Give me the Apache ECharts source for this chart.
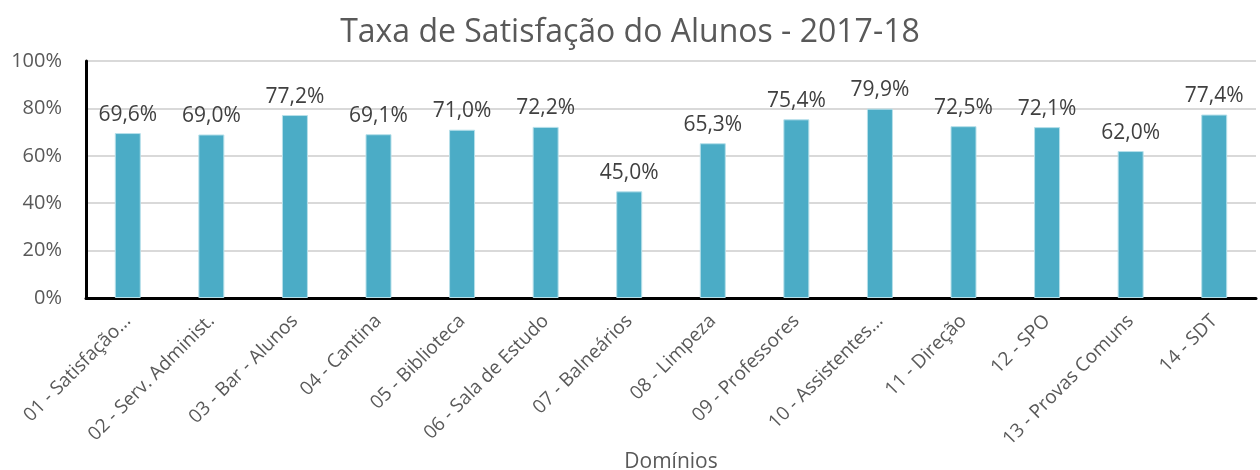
<!DOCTYPE html>
<html>
<head>
<meta charset="utf-8">
<script src="https://cdn.jsdelivr.net/npm/echarts@6/dist/echarts.min.js"></script>
<style>
  html, body { margin: 0; padding: 0; background: #fff; }
</style>
</head>
<body>
<div id="chart" style="width: 1260px; height: 470px"></div>
<script>
const categories = [
  '01 - Satisfação...', '02 - Serv. Administ.', '03 - Bar - Alunos', '04 - Cantina',
  '05 - Biblioteca', '06 - Sala de Estudo', '07 - Balneários', '08 - Limpeza',
  '09 - Professores', '10 - Assistentes...', '11 - Direção', '12 - SPO',
  '13 - Provas Comuns', '14 - SDT'
]
const satisfacao = [69.6, 69.0, 77.2, 69.1, 71.0, 72.2, 45.0, 65.3, 75.4, 79.9, 72.5, 72.1, 62.0, 77.4]

const chartDom = document.getElementById('chart')
const myChart = echarts.init(chartDom)
const font = '"Open Sans", sans-serif'

const option = {
  animation: false,
  title: {
    text: 'Taxa de Satisfação do Alunos - 2017-18',
    left: 'center',
    top: 12,
    textStyle: { fontFamily: font, fontSize: 32, fontWeight: 'normal', color: '#595959' },
  },
  grid: { left: 86, right: 4, top: 61, bottom: 172, outerBoundsMode: 'none' },
  xAxis: {
    type: 'category',
    data: categories,
    name: 'Domínios',
    nameLocation: 'middle',
    nameGap: 154,
    nameMoveOverlap: false,
    nameTextStyle: { fontFamily: font, fontSize: 21, color: '#595959' },
    axisLine: { lineStyle: { color: '#000', width: 3 } },
    axisTick: { show: false },
    axisLabel: {
      interval: 0,
      rotate: 45,
      margin: 20,
      fontFamily: font,
      fontSize: 19,
      color: '#595959',
    },
  },
  yAxis: {
    type: 'value',
    min: 0,
    max: 100,
    interval: 20,
    axisLine: { show: true, lineStyle: { color: '#000', width: 3 } },
    axisTick: { show: false },
    splitLine: { lineStyle: { color: '#d9d9d9', width: 2 } },
    axisLabel: {
      formatter: '{value}%',
      margin: 24,
      fontFamily: font,
      fontSize: 20,
      color: '#595959',
    },
  },
  series: [
    {
      type: 'bar',
      data: satisfacao,
      barWidth: 26,
      itemStyle: { color: '#4bacc6', borderColor: '#b7e0ea', borderWidth: 1 },
      label: {
        show: true,
        position: 'top',
        distance: 8,
        fontFamily: font,
        fontSize: 21,
        color: '#404040',
        formatter: (p) => p.value.toFixed(1).replace('.', ',') + '%',
      },
    },
  ],
}

option && myChart.setOption(option)
</script>
</body>
</html>
